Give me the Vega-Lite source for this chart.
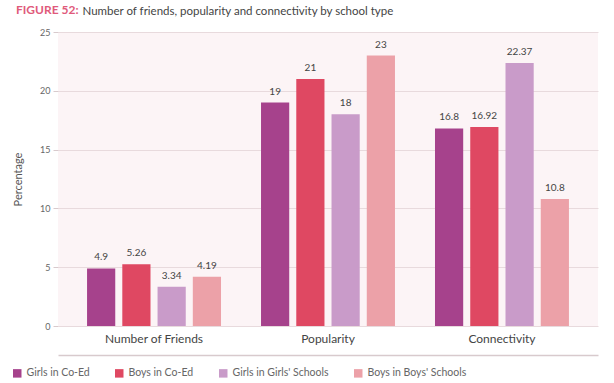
{
  "$schema": "https://vega.github.io/schema/vega-lite/v6.json",
  "autosize": "none",
  "width": 540,
  "height": 294,
  "padding": {"left": 58, "top": 32, "right": 16, "bottom": 57},
  "background": "#ffffff",
  "config": {
    "font": "Lato",
    "view": {"fill": "#fcf4f6", "stroke": null}
  },
  "title": {
    "text": "FIGURE 52:",
    "anchor": "start",
    "frame": "group",
    "dx": -42,
    "offset": -12,
    "fontSize": 12,
    "fontWeight": "bold",
    "color": "#e05a7b"
  },
  "data": {
    "values": [
      {"metric": "Number of Friends", "group": "Girls in Co-Ed", "value": 4.9},
      {"metric": "Number of Friends", "group": "Boys in Co-Ed", "value": 5.26},
      {"metric": "Number of Friends", "group": "Girls in Girls' Schools", "value": 3.34},
      {"metric": "Number of Friends", "group": "Boys in Boys' Schools", "value": 4.19},
      {"metric": "Popularity", "group": "Girls in Co-Ed", "value": 19},
      {"metric": "Popularity", "group": "Boys in Co-Ed", "value": 21},
      {"metric": "Popularity", "group": "Girls in Girls' Schools", "value": 18},
      {"metric": "Popularity", "group": "Boys in Boys' Schools", "value": 23},
      {"metric": "Connectivity", "group": "Girls in Co-Ed", "value": 16.8},
      {"metric": "Connectivity", "group": "Boys in Co-Ed", "value": 16.92},
      {"metric": "Connectivity", "group": "Girls in Girls' Schools", "value": 22.37},
      {"metric": "Connectivity", "group": "Boys in Boys' Schools", "value": 10.8}
    ]
  },
  "encoding": {
    "x": {
      "field": "metric",
      "type": "nominal",
      "sort": ["Number of Friends", "Popularity", "Connectivity"],
      "scale": {"paddingInner": 0.23, "paddingOuter": 0.167},
      "axis": {
        "title": "Number of friends, popularity and connectivity by school type",
        "titleFontSize": 11.5,
        "titleFontWeight": "normal",
        "titleColor": "#444444",
        "titleAnchor": "start",
        "titleAlign": "left",
        "titleBaseline": "alphabetic",
        "titleX": 24,
        "titleY": -341,
        "labelAngle": 0,
        "labelFontSize": 12,
        "labelColor": "#444444",
        "ticks": false,
        "offset": 29,
        "labelPadding": -22,
        "domainColor": "#d8cacd",
        "domainWidth": 1.5
      }
    },
    "xOffset": {
      "field": "group",
      "type": "nominal",
      "sort": ["Girls in Co-Ed", "Boys in Co-Ed", "Girls in Girls' Schools", "Boys in Boys' Schools"],
      "scale": {"paddingInner": 0.2, "paddingOuter": 0}
    },
    "y": {
      "field": "value",
      "type": "quantitative",
      "scale": {"domain": [0, 25]},
      "axis": {
        "title": "Percentage",
        "titleFontSize": 11,
        "titleFontWeight": "normal",
        "titleColor": "#555555",
        "titlePadding": 16,
        "values": [0, 5, 10, 15, 20, 25],
        "labelFontSize": 9,
        "labelColor": "#666666",
        "domain": false,
        "tickSize": 5,
        "tickColor": "#d8cacd",
        "labelPadding": 3,
        "gridColor": "#e8dadd",
        "gridWidth": 1
      }
    }
  },
  "layer": [
    {
      "mark": {"type": "bar", "stroke": null},
      "encoding": {
        "color": {
          "field": "group",
          "type": "nominal",
          "sort": ["Girls in Co-Ed", "Boys in Co-Ed", "Girls in Girls' Schools", "Boys in Boys' Schools"],
          "scale": {
            "domain": ["Girls in Co-Ed", "Boys in Co-Ed", "Girls in Girls' Schools", "Boys in Boys' Schools"],
            "range": ["#a6428c", "#df4862", "#c99bc9", "#eca1a8"]
          },
          "legend": {
            "title": null,
            "orient": "none",
            "direction": "horizontal",
            "legendX": -46,
            "legendY": 336,
            "symbolType": "square",
            "symbolSize": 72,
            "symbolStrokeWidth": 0,
            "labelFontSize": 10.5,
            "labelColor": "#666666",
            "columnPadding": 24,
            "labelOffset": 4
          }
        }
      }
    },
    {
      "mark": {"type": "text", "dy": -6, "fontSize": 10, "color": "#444444", "baseline": "bottom"},
      "encoding": {
        "text": {"field": "value", "type": "quantitative"}
      }
    }
  ]
}
